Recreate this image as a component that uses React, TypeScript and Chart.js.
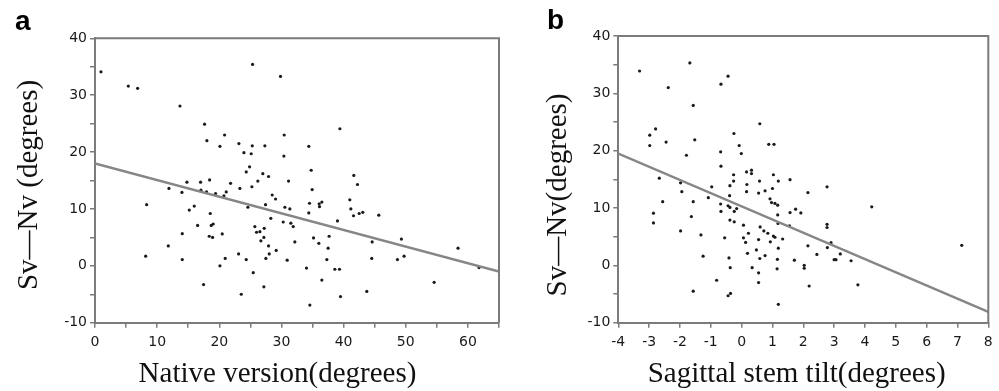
import React, { useEffect, useRef } from "react";
import { Chart, registerables } from "chart.js";

Chart.register(...registerables);

// ---------- Panel a: Native version vs Sv—Nv ----------
const nativeVersion = [
  0.96, 5.36, 6.86, 13.67, 25.35, 29.85, 17.63, 18.0, 20.85, 20.1,
  23.15, 23.96, 25.3, 25.13, 27.33, 30.44, 30.39, 34.4, 39.4, 24.87,
  24.33, 27.0, 27.92, 34.78, 41.64, 42.23, 26.2, 31.14, 34.94, 25.24,
  23.31, 21.81, 16.99, 14.79, 18.44, 11.9, 13.99, 17.04, 17.95, 19.4,
  20.74, 21.11, 8.31, 15.97, 15.17, 24.6, 28.51, 29.05, 27.44, 30.55,
  31.35, 34.51, 36.07, 36.5, 36.12, 41.0, 41.16, 41.59, 42.5, 43.09,
  45.66, 34.4, 39.01, 18.54, 28.29, 30.28, 31.51, 31.89, 16.51, 18.7,
  19.02, 14.04, 20.47, 18.38, 18.92, 25.72, 25.99, 26.53, 27.22, 27.17,
  26.69, 35.16, 36.01, 32.15, 37.67, 44.59, 49.3, 58.41, 11.79, 8.15,
  14.04, 23.1, 20.95, 24.33, 27.92, 28.03, 27.49, 29.15, 30.92, 37.51,
  37.3, 44.53, 48.66, 49.73, 20.1, 34.03, 38.59, 39.34, 61.79, 25.46,
  36.5, 54.56, 17.47, 27.17, 23.53, 43.73, 39.5, 34.57,
];
const svNvA = [
  34.1, 31.6, 31.2, 28.1, 35.4, 33.3, 24.9, 22.0, 23.0, 21.0,
  21.5, 19.9, 21.1, 19.7, 21.1, 23.0, 19.3, 21.0, 24.1, 17.4,
  16.5, 16.2, 15.7, 16.8, 15.9, 14.3, 14.9, 14.9, 13.4, 13.9,
  13.6, 14.5, 14.7, 14.7, 15.1, 13.6, 12.9, 13.3, 13.0, 12.7,
  12.3, 13.0, 10.75, 10.5, 9.8, 10.3, 12.45, 11.75, 10.75, 10.3,
  10.0, 11.0, 10.9, 11.2, 10.4, 11.6, 10.0, 8.8, 9.2, 9.4,
  8.9, 9.3, 7.9, 9.2, 8.35, 7.7, 7.5, 6.9, 7.1, 7.1,
  7.35, 5.65, 5.6, 5.2, 5.0, 6.9, 5.9, 6.0, 6.6, 5.0,
  4.4, 4.9, 3.95, 4.2, 5.2, 4.2, 4.7, 3.1, 3.5, 1.7,
  1.1, 2.1, 1.3, 1.1, 3.5, 2.1, 1.3, 2.7, 1.0, 3.1,
  1.1, 1.3, 1.1, 1.7, 0.0, -0.4, -0.6, -0.6, -0.3, -1.2,
  -2.5, -2.9, -3.3, -3.7, -5.0, -4.5, -5.4, -6.9,
];
const fitA_x = [0, 65];
const fitA_y = [18.0, -1.0];
const xTickLabelsA = [0, 10, 20, 30, 40, 50, 60];

// ---------- Panel b: Sagittal stem tilt vs Sv—Nv ----------
const stemTilt = [
  -3.31, -1.68, -0.44, -0.67, -2.38, -1.57, 0.59, -2.79, -2.98, -1.52,
  -0.25, -2.98, -2.45, -0.68, -0.08, -0.01, 0.88, 1.05, -1.79, -0.67,
  0.16, 0.32, 0.32, -1.98, -2.67, -0.26, -0.26, -0.38, -0.97, 0.17,
  0.58, 1.03, 1.19, 1.57, -1.94, 0.16, 0.55, 0.76, 1.0, -0.39,
  2.15, 2.77, 4.22, -2.56, -1.57, -1.08, -0.68, -0.44, -0.38, -0.16,
  0.92, 0.97, 1.08, 1.17, 1.17, 1.75, 1.92, 1.57, -2.86, -2.86,
  -0.67, -0.24, -0.38, -0.24, 1.18, 1.55, 0.6, 0.06, 2.77, 2.77,
  -1.63, -1.98, -1.32, -0.55, 0.06, 0.22, 0.13, 0.55, 0.72, 0.85,
  0.93, 1.03, 1.08, 1.33, 0.48, 0.19, 0.59, 0.76, 1.19, 1.16,
  1.71, 2.15, 2.44, 2.78, 2.9, 3.0, 3.06, 3.2, 3.55, -1.25,
  -0.41, -0.37, 0.34, 2.03, 2.03, 0.55, 1.15, 0.55, -0.81, 2.19,
  3.77, -1.57, -0.36, -0.44, 1.19, 7.14,
];
const svNvB = [
  33.9, 35.3, 33.0, 31.6, 31.0, 27.9, 24.7, 23.8, 22.7, 21.9,
  23.0, 20.9, 21.5, 19.8, 20.9, 19.5, 21.1, 21.1, 19.2, 17.3,
  16.3, 16.6, 16.0, 14.4, 15.2, 15.8, 14.7, 13.9, 13.7, 14.1,
  14.7, 15.8, 14.7, 14.95, 12.85, 12.85, 12.6, 13.0, 13.4, 12.15,
  12.7, 13.7, 10.2, 11.1, 11.1, 11.8, 10.7, 10.4, 10.1, 9.9,
  11.6, 10.95, 10.8, 10.5, 8.8, 9.8, 9.15, 9.2, 9.1, 7.4,
  9.4, 9.4, 7.9, 7.6, 7.3, 6.9, 6.7, 7.0, 7.15, 6.6,
  8.5, 6.0, 5.3, 4.8, 4.8, 5.6, 4.0, 4.5, 6.0, 5.6,
  4.1, 5.1, 4.9, 4.6, 2.7, 2.1, 1.2, 1.7, 3.0, 1.05,
  0.9, 3.4, 1.9, 3.1, 3.95, 1.0, 1.0, 2.0, 0.8, 1.6,
  1.3, -0.4, -0.4, 0.0, -0.5, -1.3, -0.6, -3.0, -2.6, -3.6,
  -3.4, -4.5, -4.9, -5.3, -6.8, 3.5,
];
const fitB_x = [-4, 8];
const fitB_y = [19.5, -8.1];
const xTickLabelsB = [-4, -3, -2, -1, 0, 1, 2, 3, 4, 5, 6, 7, 8];

const yTickLabels = [-10, 0, 10, 20, 30, 40];

const AXIS_GRAY = "#7b7b7b";
const TICK_FONT = { family: "'DejaVu Sans', Verdana, sans-serif", size: 14 };

const framePlugin = {
  id: "frame",
  afterDraw(chart: any) {
    const { ctx, chartArea } = chart;
    ctx.save();
    ctx.strokeStyle = AXIS_GRAY;
    ctx.lineWidth = 2;
    ctx.beginPath();
    ctx.moveTo(chartArea.left, chartArea.top);
    ctx.lineTo(chartArea.right, chartArea.top);
    ctx.lineTo(chartArea.right, chartArea.bottom);
    ctx.stroke();
    ctx.restore();
  },
};

type PanelText = {
  letter: string;
  letterX: number;
  letterY: number;
  xTitle: string;
  xTitleX: number;
  xTitleY: number;
  yTitle: string;
  yTitleX: number;
  yTitleY: number;
};

const makeTextPlugin = (t: PanelText) => ({
  id: "panelText",
  afterDraw(chart: any) {
    const ctx = chart.ctx;
    ctx.save();
    ctx.fillStyle = "#000";
    ctx.textBaseline = "alphabetic";
    ctx.font = "bold 28px 'Liberation Sans', Arial, sans-serif";
    ctx.textAlign = "left";
    ctx.fillText(t.letter, t.letterX, t.letterY);
    ctx.fillStyle = "#111";
    ctx.font = "29px 'Liberation Serif', 'Times New Roman', serif";
    ctx.textAlign = "center";
    ctx.fillText(t.xTitle, t.xTitleX, t.xTitleY);
    ctx.translate(t.yTitleX, t.yTitleY);
    ctx.rotate(-Math.PI / 2);
    ctx.fillText(t.yTitle, 0, 0);
    ctx.restore();
  },
});

type PanelProps = {
  left: number;
  width: number;
  xs: number[];
  ys: number[];
  fitX: number[];
  fitY: number[];
  xMin: number;
  xMax: number;
  xStep: number;
  xLabels: number[];
  areaLeft: number;
  areaRight: number;
  areaTop: number;
  areaBottom: number;
  text: PanelText;
};

const HEIGHT = 391;

function Panel(p: PanelProps) {
  const ref = useRef<HTMLCanvasElement | null>(null);
  useEffect(() => {
    if (!ref.current) return;
    const points = p.xs.map((x, i) => ({ x, y: p.ys[i] }));
    const fit = p.fitX.map((x, i) => ({ x, y: p.fitY[i] }));
    const chart = new Chart(ref.current, {
      type: "scatter",
      data: {
        datasets: [
          {
            label: "points",
            data: points,
            pointRadius: 1.6,
            pointBackgroundColor: "#1a1a1a",
            pointBorderWidth: 0,
            order: 2,
          },
          {
            label: "fit",
            data: fit,
            showLine: true,
            borderColor: "#868686",
            borderWidth: 2.5,
            pointRadius: 0,
            order: 1,
          } as any,
        ],
      },
      options: {
        responsive: false,
        animation: false,
        devicePixelRatio: 1,
        layout: {
          padding: {
            left: 0,
            top: p.areaTop,
            right: p.width - p.areaRight,
            bottom: 0,
          },
        },
        plugins: {
          legend: { display: false },
          tooltip: { enabled: false },
        },
        scales: {
          x: {
            type: "linear",
            min: p.xMin,
            max: p.xMax,
            ticks: {
              stepSize: p.xStep,
              autoSkip: false,
              maxRotation: 0,
              padding: 6,
              color: "#1a1a1a",
              font: TICK_FONT,
              callback: (v: any) => (p.xLabels.includes(Number(v)) ? String(v) : ""),
            },
            grid: {
              display: true,
              drawOnChartArea: false,
              drawTicks: true,
              tickLength: 5,
              color: AXIS_GRAY,
              lineWidth: 1.5,
            },
            border: { display: true, color: AXIS_GRAY, width: 2 },
            afterFit: (s: any) => {
              s.height = HEIGHT - p.areaBottom;
            },
          },
          y: {
            type: "linear",
            min: -10,
            max: 40,
            ticks: {
              stepSize: 5,
              autoSkip: false,
              padding: 3,
              color: "#1a1a1a",
              font: TICK_FONT,
              callback: (v: any) => (yTickLabels.includes(Number(v)) ? String(v) : ""),
            },
            grid: {
              display: true,
              drawOnChartArea: false,
              drawTicks: true,
              tickLength: 5,
              color: AXIS_GRAY,
              lineWidth: 1.5,
            },
            border: { display: true, color: AXIS_GRAY, width: 2 },
            afterFit: (s: any) => {
              s.width = p.areaLeft;
            },
          },
        },
      },
      plugins: [framePlugin, makeTextPlugin(p.text)],
    });
    return () => chart.destroy();
  }, []);
  return (
    <canvas
      ref={ref}
      width={p.width}
      height={HEIGHT}
      style={{ position: "absolute", left: p.left, top: 0, width: p.width, height: HEIGHT }}
    />
  );
}

export default function App() {
  return (
    <div
      style={{
        position: "fixed",
        left: 0,
        top: 0,
        width: 999,
        height: HEIGHT,
        background: "#fff",
        overflow: "hidden",
      }}
    >
      <Panel
        left={0}
        width={505}
        xs={nativeVersion}
        ys={svNvA}
        fitX={fitA_x}
        fitY={fitA_y}
        xMin={0}
        xMax={65}
        xStep={5}
        xLabels={xTickLabelsA}
        areaLeft={95}
        areaRight={499.5}
        areaTop={38.3}
        areaBottom={322.7}
        text={{
          letter: "a",
          letterX: 15,
          letterY: 30,
          xTitle: "Native version(degrees)",
          xTitleX: 277.5,
          xTitleY: 382,
          yTitle: "Sv\u2014Nv (degrees)",
          yTitleX: 37,
          yTitleY: 185,
        }}
      />
      <Panel
        left={505}
        width={494}
        xs={stemTilt}
        ys={svNvB}
        fitX={fitB_x}
        fitY={fitB_y}
        xMin={-4}
        xMax={8}
        xStep={1}
        xLabels={xTickLabelsB}
        areaLeft={113.3}
        areaRight={483.3}
        areaTop={36}
        areaBottom={322.7}
        text={{
          letter: "b",
          letterX: 42,
          letterY: 29,
          xTitle: "Sagittal stem tilt(degrees)",
          xTitleX: 291.7,
          xTitleY: 382,
          yTitle: "Sv\u2014Nv(degrees)",
          yTitleX: 61,
          yTitleY: 195,
        }}
      />
    </div>
  );
}
